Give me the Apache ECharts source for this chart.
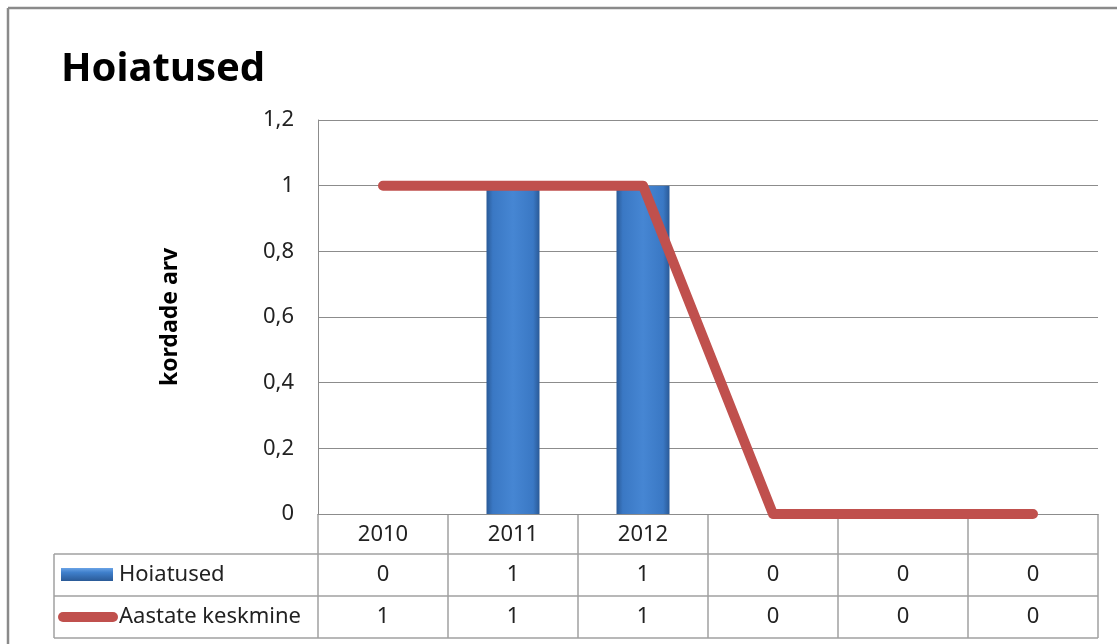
<!DOCTYPE html>
<html>
<head>
<meta charset="utf-8">
<script src="https://cdn.jsdelivr.net/npm/echarts@6/dist/echarts.min.js"></script>
<style>
html,body{margin:0;padding:0;background:#fff;}
#c{width:1117px;height:644px;}
</style>
</head>
<body>
<div id="c"></div>
<script>
const titleText = 'Hoiatused';
const yAxisTitle = 'kordade arv';
const categories = ['2010', '2011', '2012', '', '', ''];
const seriesNames = ['Hoiatused', 'Aastate keskmine'];
const hoiatused = [0, 1, 1, 0, 0, 0];
const keskmine = [1, 1, 1, 0, 0, 0];
const yMin = 0, yMax = 1.2, yStep = 0.2;

const FONT = 'Noto Sans';
const GRID = '#8c8c8c';
const TABLE = '#a0a0a0';
const RED = '#C0504D';
const barGrad = new echarts.graphic.LinearGradient(0, 0, 1, 0, [
  {offset: 0, color: '#2a5a97'},
  {offset: 0.12, color: '#3a78c4'},
  {offset: 0.5, color: '#4686d3'},
  {offset: 0.88, color: '#3a78c4'},
  {offset: 1, color: '#2a5a97'}
]);

const chart = echarts.init(document.getElementById('c'));
const option = {
  animation: false,
  backgroundColor: '#fff',
  title: {
    text: titleText, left: 56, top: 45,
    textStyle: {fontFamily: FONT, fontSize: 40, fontWeight: 'bold', color: '#000'}
  },
  grid: {left: 318, right: 19, top: 120, bottom: 130},
  xAxis: {
    type: 'category', data: categories,
    axisLine: {lineStyle: {color: GRID}},
    axisTick: {show: false},
    axisLabel: {fontFamily: FONT, fontSize: 22, color: '#222', margin: 10}
  },
  yAxis: {
    type: 'value', min: yMin, max: yMax, interval: yStep,
    name: yAxisTitle, nameLocation: 'middle', nameGap: 136,
    nameTextStyle: {fontFamily: FONT, fontSize: 23, fontWeight: 'bold', color: '#000'},
    axisLine: {show: true, lineStyle: {color: GRID}},
    axisTick: {show: false},
    axisLabel: {fontFamily: FONT, fontSize: 22, color: '#222', margin: 24,
      formatter: v => String(Math.round(v * 10) / 10).replace('.', ',')},
    splitLine: {lineStyle: {color: GRID}}
  },
  series: [
    {
      name: seriesNames[0], type: 'bar', data: hoiatused, barWidth: 53,
      itemStyle: {color: barGrad, shadowColor: 'rgba(0,0,0,0.35)', shadowBlur: 4, shadowOffsetX: 2}
    },
    {
      name: seriesNames[1], type: 'line', data: keskmine, symbol: 'none',
      lineStyle: {color: RED, width: 10, cap: 'round', join: 'round'}, z: 5
    }
  ]
};
chart.setOption(option);

// data table built from the same arrays, positioned via the axes
const xs = categories.map((c, i) => chart.convertToPixel({xAxisIndex: 0}, i));
const cw = xs[1] - xs[0];
const left = xs[0] - cw / 2;
const right = xs[xs.length - 1] + cw / 2;
const y0 = chart.convertToPixel({yAxisIndex: 0}, 0);
const r1 = y0 + 40, r2 = y0 + 82, r3 = y0 + 124;
const tableLeft = 54;
const els = [];
const line = (x1, y1, x2, y2, color, w) => els.push({type: 'line', shape: {x1, y1, x2, y2}, style: {stroke: color, lineWidth: w || 1.5}, silent: true});
// outer frame
line(8, 8, 1117, 8, '#8a8a8a', 2.5);
line(8, 8, 8, 644, '#8a8a8a', 2.5);
// table horizontals
line(tableLeft, r1, right, r1, TABLE);
line(tableLeft, r2, right, r2, TABLE);
line(tableLeft, r3, right, r3, TABLE);
line(tableLeft, r1, tableLeft, r3, TABLE);
// verticals
for (let i = 0; i <= categories.length; i++) {
  const x = left + i * cw;
  line(x, y0, x, r3, TABLE);
}
const rows = [hoiatused, keskmine];
const rowTops = [r1, r2];
rows.forEach((arr, ri) => {
  const cy = (rowTops[ri] + rowTops[ri] + 42) / 2;
  arr.forEach((v, i) => {
    els.push({type: 'text', x: xs[i], y: cy, silent: true,
      style: {text: String(v), fontFamily: FONT, fontSize: 22, fill: '#222', align: 'center', verticalAlign: 'middle'}});
  });
  els.push({type: 'text', x: 119, y: cy, silent: true,
    style: {text: seriesNames[ri], fontFamily: FONT, fontSize: 22, fill: '#222', align: 'left', verticalAlign: 'middle'}});
});
// legend keys
const c1 = (r1 + r2) / 2, c2 = (r2 + r3) / 2;
els.push({type: 'rect', shape: {x: 61, y: c1 - 7, width: 52, height: 13}, silent: true,
  style: {fill: new echarts.graphic.LinearGradient(0, 0, 0, 1, [
    {offset: 0, color: '#6aa3e6'}, {offset: 0.35, color: '#3f7fcb'}, {offset: 1, color: '#2a5a97'}])}});
els.push({type: 'line', shape: {x1: 63, y1: c2, x2: 113, y2: c2}, silent: true,
  style: {stroke: RED, lineWidth: 10, lineCap: 'round'}});
chart.setOption({graphic: {elements: els}});
</script>
</body>
</html>
